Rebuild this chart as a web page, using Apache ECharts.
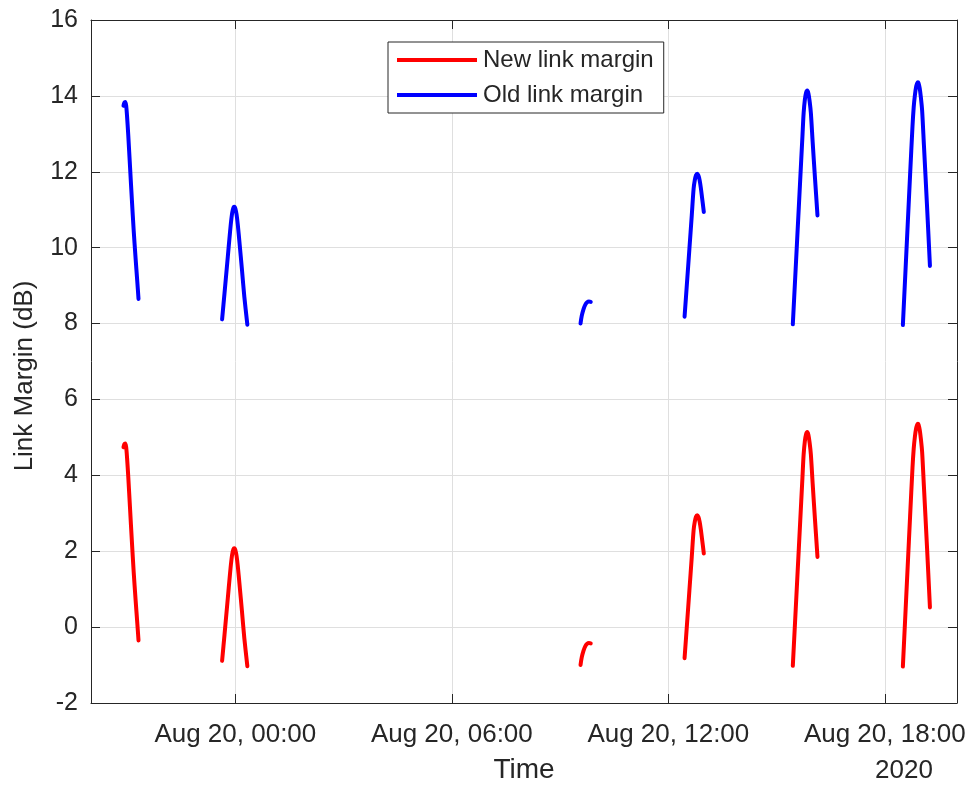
<!DOCTYPE html>
<html>
<head>
<meta charset="utf-8">
<script src="https://cdn.jsdelivr.net/npm/echarts@6/dist/echarts.min.js"></script>
<style>
html,body{margin:0;padding:0;background:#fff;}
#chart{width:971px;height:785px;}
</style>
</head>
<body>
<div id="chart"></div>
<script>
// ---- data ----
const seriesNames = ['New link margin', 'Old link margin'];
const seriesColors = ['#ff0000', '#0000ff'];
const xTickLabels = ['Aug 20, 00:00', 'Aug 20, 06:00', 'Aug 20, 12:00', 'Aug 20, 18:00'];
const xTickTimes = ['2020-08-20 00:00', '2020-08-20 06:00', '2020-08-20 12:00', '2020-08-20 18:00'];
const xRange = ['2020-08-19 20:00', '2020-08-20 20:00'];
const yRange = [-2, 16];
const yStep = 2;
const xAxisTitle = 'Time';
const yAxisTitle = 'Link Margin (dB)';
const yearLabel = '2020';

// New link margin, one array per pass
const newPass1 = [['2020-08-19 20:54', 4.74], ['2020-08-19 20:55:30', 4.82], ['2020-08-19 20:57', 4.84], ['2020-08-19 20:58:30', 4.74], ['2020-08-19 21:00', 4.45], ['2020-08-19 21:02', 3.95], ['2020-08-19 21:05', 3.1], ['2020-08-19 21:08', 2.25], ['2020-08-19 21:11', 1.45], ['2020-08-19 21:14', 0.75], ['2020-08-19 21:17', 0.1], ['2020-08-19 21:19', -0.35]];
const newPass2 = [['2020-08-19 23:38', -0.89], ['2020-08-19 23:42', -0.2], ['2020-08-19 23:46', 0.5], ['2020-08-19 23:49', 1.03], ['2020-08-19 23:51', 1.38], ['2020-08-19 23:53', 1.7], ['2020-08-19 23:55', 1.94], ['2020-08-19 23:57', 2.06], ['2020-08-19 23:58', 2.08], ['2020-08-19 23:59', 2.07], ['2020-08-20 00:00', 2.03], ['2020-08-20 00:02', 1.88], ['2020-08-20 00:04', 1.62], ['2020-08-20 00:07', 1.12], ['2020-08-20 00:11', 0.42], ['2020-08-20 00:15', -0.3], ['2020-08-20 00:20', -1.03]];
const newPass3 = [['2020-08-20 09:34', -1.0], ['2020-08-20 09:36', -0.8], ['2020-08-20 09:39', -0.62], ['2020-08-20 09:42', -0.5], ['2020-08-20 09:45', -0.44], ['2020-08-20 09:48', -0.42], ['2020-08-20 09:51', -0.43]];
const newPass4 = [['2020-08-20 12:27', -0.82], ['2020-08-20 12:31', 0.07], ['2020-08-20 12:35', 0.96], ['2020-08-20 12:39', 1.86], ['2020-08-20 12:42', 2.55], ['2020-08-20 12:44', 2.78], ['2020-08-20 12:46', 2.91], ['2020-08-20 12:48', 2.95], ['2020-08-20 12:50', 2.9], ['2020-08-20 12:52', 2.78], ['2020-08-20 12:54', 2.58], ['2020-08-20 12:56', 2.33], ['2020-08-20 12:59', 1.94]];
const newPass5 = [['2020-08-20 15:27', -1.02], ['2020-08-20 15:31', 0.22], ['2020-08-20 15:35', 1.46], ['2020-08-20 15:39', 2.7], ['2020-08-20 15:43', 3.94], ['2020-08-20 15:45', 4.55], ['2020-08-20 15:47', 4.9], ['2020-08-20 15:49', 5.08], ['2020-08-20 15:51', 5.14], ['2020-08-20 15:53', 5.06], ['2020-08-20 15:55', 4.85], ['2020-08-20 15:57', 4.55], ['2020-08-20 16:00', 3.78], ['2020-08-20 16:04', 2.8], ['2020-08-20 16:08', 1.85]];
const newPass6 = [['2020-08-20 18:30', -1.04], ['2020-08-20 18:34', 0.28], ['2020-08-20 18:38', 1.6], ['2020-08-20 18:42', 2.92], ['2020-08-20 18:46', 4.2], ['2020-08-20 18:48', 4.7], ['2020-08-20 18:50', 5.02], ['2020-08-20 18:52', 5.24], ['2020-08-20 18:54', 5.34], ['2020-08-20 18:55', 5.36], ['2020-08-20 18:56', 5.34], ['2020-08-20 18:58', 5.2], ['2020-08-20 19:00', 4.95], ['2020-08-20 19:02', 4.62], ['2020-08-20 19:05', 3.7], ['2020-08-20 19:10', 2.15], ['2020-08-20 19:15', 0.52]];

// Old link margin, one array per pass
const oldPass1 = [['2020-08-19 20:54', 13.74], ['2020-08-19 20:55:30', 13.82], ['2020-08-19 20:57', 13.84], ['2020-08-19 20:58:30', 13.74], ['2020-08-19 21:00', 13.45], ['2020-08-19 21:02', 12.95], ['2020-08-19 21:05', 12.1], ['2020-08-19 21:08', 11.25], ['2020-08-19 21:11', 10.45], ['2020-08-19 21:14', 9.75], ['2020-08-19 21:17', 9.1], ['2020-08-19 21:19', 8.65]];
const oldPass2 = [['2020-08-19 23:38', 8.11], ['2020-08-19 23:42', 8.8], ['2020-08-19 23:46', 9.5], ['2020-08-19 23:49', 10.03], ['2020-08-19 23:51', 10.38], ['2020-08-19 23:53', 10.7], ['2020-08-19 23:55', 10.94], ['2020-08-19 23:57', 11.06], ['2020-08-19 23:58', 11.08], ['2020-08-19 23:59', 11.07], ['2020-08-20 00:00', 11.03], ['2020-08-20 00:02', 10.88], ['2020-08-20 00:04', 10.62], ['2020-08-20 00:07', 10.12], ['2020-08-20 00:11', 9.42], ['2020-08-20 00:15', 8.7], ['2020-08-20 00:20', 7.97]];
const oldPass3 = [['2020-08-20 09:34', 8.0], ['2020-08-20 09:36', 8.2], ['2020-08-20 09:39', 8.38], ['2020-08-20 09:42', 8.5], ['2020-08-20 09:45', 8.56], ['2020-08-20 09:48', 8.58], ['2020-08-20 09:51', 8.57]];
const oldPass4 = [['2020-08-20 12:27', 8.18], ['2020-08-20 12:31', 9.07], ['2020-08-20 12:35', 9.96], ['2020-08-20 12:39', 10.86], ['2020-08-20 12:42', 11.55], ['2020-08-20 12:44', 11.78], ['2020-08-20 12:46', 11.91], ['2020-08-20 12:48', 11.95], ['2020-08-20 12:50', 11.9], ['2020-08-20 12:52', 11.78], ['2020-08-20 12:54', 11.58], ['2020-08-20 12:56', 11.33], ['2020-08-20 12:59', 10.94]];
const oldPass5 = [['2020-08-20 15:27', 7.98], ['2020-08-20 15:31', 9.22], ['2020-08-20 15:35', 10.46], ['2020-08-20 15:39', 11.7], ['2020-08-20 15:43', 12.94], ['2020-08-20 15:45', 13.55], ['2020-08-20 15:47', 13.9], ['2020-08-20 15:49', 14.08], ['2020-08-20 15:51', 14.14], ['2020-08-20 15:53', 14.06], ['2020-08-20 15:55', 13.85], ['2020-08-20 15:57', 13.55], ['2020-08-20 16:00', 12.78], ['2020-08-20 16:04', 11.8], ['2020-08-20 16:08', 10.85]];
const oldPass6 = [['2020-08-20 18:30', 7.96], ['2020-08-20 18:34', 9.28], ['2020-08-20 18:38', 10.6], ['2020-08-20 18:42', 11.92], ['2020-08-20 18:46', 13.2], ['2020-08-20 18:48', 13.7], ['2020-08-20 18:50', 14.02], ['2020-08-20 18:52', 14.24], ['2020-08-20 18:54', 14.34], ['2020-08-20 18:55', 14.36], ['2020-08-20 18:56', 14.34], ['2020-08-20 18:58', 14.2], ['2020-08-20 19:00', 13.95], ['2020-08-20 19:02', 13.62], ['2020-08-20 19:05', 12.7], ['2020-08-20 19:10', 11.15], ['2020-08-20 19:15', 9.52]];

const newPasses = [newPass1, newPass2, newPass3, newPass4, newPass5, newPass6];
const oldPasses = [oldPass1, oldPass2, oldPass3, oldPass4, oldPass5, oldPass6];

// ---- build ----
const toTs = s => echarts.time.parse(s).getTime();
const tickTs = xTickTimes.map(toTs);
const labelMap = {};
tickTs.forEach((t, i) => { labelMap[t] = xTickLabels[i]; });

const FONT = 'Liberation Sans, Arial, Helvetica, sans-serif';
const TXT = '#262626';
const AX = '#262626';
const GRIDC = '#dfdfdf';

const chart = echarts.init(document.getElementById('chart'), null, {renderer: 'canvas'});

const xBase = {
  type: 'time',
  gridIndex: 0,
  min: toTs(xRange[0]),
  max: toTs(xRange[1]),
  splitNumber: 3,
  axisLine: {show: true, onZero: false, lineStyle: {color: AX, width: 1}},
  axisTick: {show: true, inside: true, length: 9, lineStyle: {color: AX, width: 1}},
  minorTick: {show: false},
  axisPointer: {show: false}
};
const yBase = {
  type: 'value',
  min: yRange[0], max: yRange[1], interval: yStep,
  axisLine: {show: true, onZero: false, lineStyle: {color: AX, width: 1}},
  axisTick: {show: true, inside: true, length: 9, lineStyle: {color: AX, width: 1}},
  axisPointer: {show: false}
};

function passSeries(passes, idx) {
  return passes.map(p => ({
    name: seriesNames[idx], type: 'line', xAxisIndex: 0, yAxisIndex: 0,
    data: p, showSymbol: false, symbol: 'none',
    smooth: 0.3,
    color: seriesColors[idx],
    lineStyle: {color: seriesColors[idx], width: 4, cap: 'round', join: 'round'},
    emphasis: {disabled: true}
  }));
}

chart.setOption({
  animation: false,
  backgroundColor: '#ffffff',
  grid: {left: 91, right: 14, top: 20, bottom: 82, containLabel: false, outerBoundsMode: 'none'},
  legend: {
    show: true,
    data: seriesNames,
    orient: 'vertical',
    left: 388, top: 42,
    backgroundColor: '#ffffff',
    borderColor: '#262626', borderWidth: 1,
    padding: [6, 10, 6, 9],
    itemGap: 11,
    itemWidth: 80, itemHeight: 4,
    icon: 'rect',
    selectedMode: false,
    textStyle: {fontFamily: FONT, fontSize: 24, color: TXT, lineHeight: 23, padding: [0, 0, 0, 1]}
  },
  xAxis: [
    Object.assign({}, xBase, {
      position: 'bottom',
      name: xAxisTitle, nameLocation: 'middle', nameGap: 53,
      nameTextStyle: {fontFamily: FONT, fontSize: 28, color: TXT},
      axisLabel: {show: true, margin: 19, fontFamily: FONT, fontSize: 26, color: TXT, hideOverlap: false,
        formatter: v => (labelMap[v] !== undefined ? labelMap[v] : '')},
      splitLine: {show: true, lineStyle: {color: GRIDC, width: 1}}
    }),
    Object.assign({}, xBase, {
      position: 'top',
      axisLabel: {show: false},
      splitLine: {show: false}
    })
  ],
  yAxis: [
    Object.assign({}, yBase, {
      position: 'left',
      axisLabel: {show: true, margin: 13, fontFamily: FONT, fontSize: 25, color: TXT},
      splitLine: {show: true, lineStyle: {color: GRIDC, width: 1}}
    }),
    Object.assign({}, yBase, {
      position: 'right',
      axisLabel: {show: false},
      splitLine: {show: false}
    })
  ],
  graphic: [
    {
      type: 'text', x: 25, y: 376, rotation: Math.PI / 2,
      style: {text: yAxisTitle, fontFamily: FONT, fontSize: 26, fill: TXT, align: 'center', verticalAlign: 'middle'}
    },
    {
      type: 'text', x: 904, y: 771,
      style: {text: yearLabel, fontFamily: FONT, fontSize: 26, fill: TXT, align: 'center', verticalAlign: 'middle'}
    }
  ],
  series: passSeries(newPasses, 0).concat(passSeries(oldPasses, 1))
});
</script>
</body>
</html>
